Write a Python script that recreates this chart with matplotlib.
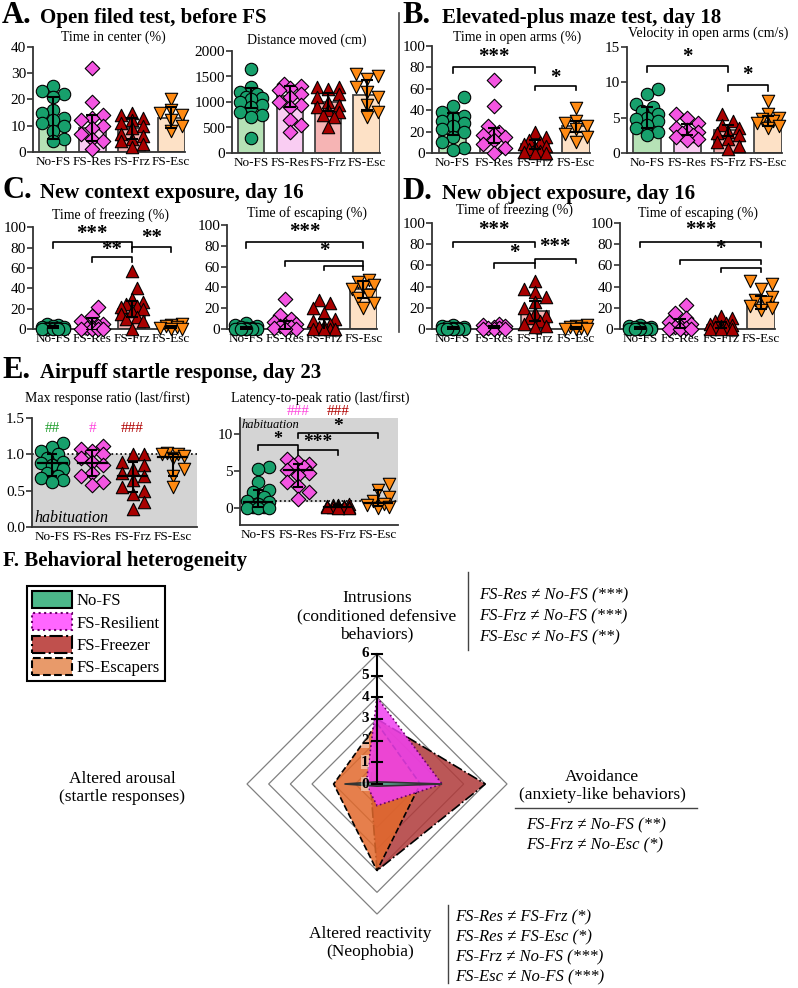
import numpy as np
import matplotlib.pyplot as plt
from matplotlib.patches import Patch, Polygon
from matplotlib.colors import to_rgba

W, H = 798, 988
plt.rcParams['font.family'] = ['Liberation Serif', 'DejaVu Serif']

groups = ['No-FS', 'FS-Res', 'FS-Frz', 'FS-Esc']
markers = ['o', 'D', '^', 'v']
msize = [80, 55, 80, 80]
pt_col = ['#17a06c', '#f455e2', '#a80000', '#ff8a12']
bar_col = ['#b6e2b6', '#f9cdf2', '#f6b4b4', '#fde1c6']

# --- A. open field ---
center_time = [
    [25, 23, 22, 21, 16, 15, 13, 12, 11, 10, 8, 5, 4],
    [32, 19, 14, 13, 12, 10, 9, 7, 5, 4, 1],
    [15, 14, 13, 12, 11, 10, 9, 7, 6, 5, 4, 3, 2],
    [20, 16, 15, 14, 12, 10, 8],
]
center_bar = [13, 9, 9, 13]
center_err = [8, 5, 4, 4]

dist = [
    [1650, 1300, 1200, 1150, 1100, 1080, 1050, 1000, 950, 900, 800, 750, 700, 290],
    [1350, 1320, 1280, 1230, 1150, 1100, 1000, 950, 900, 650, 550, 420],
    [1300, 1300, 1250, 1150, 1100, 1000, 950, 900, 850, 800, 750, 700, 500],
    [1550, 1500, 1450, 1300, 1200, 1100, 950, 800, 700],
]
dist_bar = [1080, 1110, 1000, 1140]
dist_err = [200, 200, 180, 300]

# --- B. elevated plus maze ---
arms = [
    [52, 44, 38, 35, 33, 30, 28, 25, 22, 20, 15, 10, 5, 3],
    [68, 44, 25, 20, 18, 17, 15, 12, 8, 5, 0],
    [20, 15, 12, 10, 8, 7, 5, 4, 2, 1, 0, 0],
    [42, 30, 28, 25, 22, 18, 15, 10],
]
arms_bar = [27, 16, 8, 25]
arms_err = [10, 7, 4, 5]

vel = [
    [9.0, 8.4, 7.0, 6.5, 6.0, 5.5, 5.0, 4.8, 4.5, 4.0, 3.5, 3.0, 2.5],
    [5.5, 5.0, 4.2, 3.6, 3.3, 3.0, 2.8, 2.5, 2.2, 2.0, 1.8],
    [5.5, 4.5, 4.0, 3.5, 3.0, 2.8, 2.5, 2.0, 1.5, 1.0, 0.5],
    [7.3, 5.5, 5.0, 4.8, 4.5, 4.2, 3.8, 3.5],
]
vel_bar = [5.0, 3.3, 3.2, 4.5]
vel_err = [1.5, 0.8, 0.8, 0.7]

# --- C. new context ---
ctx_frz = [
    [5, 4, 3, 2, 2, 1, 1, 0.5, 0, 0, 0, 0, 0],
    [22, 13, 8, 5, 3, 2, 1, 0, 0, 0, 0],
    [57, 40, 30, 27, 25, 23, 22, 20, 18, 15, 12, 10, 8, 0],
    [5, 4, 3, 2, 1, 0, 0],
]
ctx_frz_bar = [1.5, 5, 20, 2]
ctx_frz_err = [1, 6, 8, 1]

ctx_esc = [
    [6, 4, 3, 2, 1, 1, 0, 0, 0, 0, 0, 0],
    [29, 13, 10, 7, 5, 4, 3, 2, 1, 0, 0],
    [28, 25, 20, 15, 10, 8, 5, 3, 2, 0, 0, 0, 0],
    [47, 45, 42, 40, 38, 33, 30, 25, 20],
]
ctx_esc_bar = [1, 4, 4, 38]
ctx_esc_err = [1, 4, 6, 8]

# --- D. new object ---
obj_frz = [
    [4, 3, 2, 2, 1, 1, 0, 0, 0, 0, 0, 0],
    [5, 4, 3, 2, 1, 1, 0, 0, 0],
    [45, 38, 35, 30, 25, 20, 15, 12, 10, 8, 5, 3, 2],
    [4, 3, 2, 1, 0, 0, 0],
]
obj_frz_bar = [1, 2, 17, 1]
obj_frz_err = [1, 1, 9, 1]

obj_esc = [
    [4, 3, 2, 2, 1, 1, 0, 0, 0, 0, 0, 0],
    [23, 15, 10, 7, 5, 3, 2, 1, 0, 0, 0],
    [12, 10, 8, 6, 5, 4, 3, 2, 1, 0, 0, 0],
    [45, 42, 38, 30, 27, 25, 22, 20, 18],
]
obj_esc_bar = [1, 5, 4, 25]
obj_esc_err = [1, 4, 3, 6]

# --- E. startle ---
max_ratio = [
    [1.15, 1.10, 1.05, 1.00, 0.95, 0.90, 0.88, 0.85, 0.80, 0.75, 0.70, 0.68, 0.65, 0.62],
    [1.12, 1.08, 1.05, 1.00, 0.95, 0.90, 0.85, 0.75, 0.70, 0.62, 0.58],
    [1.00, 1.00, 0.90, 0.85, 0.80, 0.75, 0.70, 0.65, 0.55, 0.50, 0.45, 0.35, 0.25],
    [1.02, 1.00, 1.00, 0.98, 0.95, 0.80, 0.70, 0.55],
]
max_med = [0.88, 0.88, 0.70, 0.96]
max_lo = [0.70, 0.70, 0.48, 0.70]
max_hi = [1.00, 1.06, 0.90, 1.00]
max_hash = ['##', '#', '###', '']

lat_ratio = [
    [5.6, 5.3, 3.5, 2.5, 2.2, 1.5, 1.0, 0.8, 0.5, 0.2, 0.1, 0.0, 0.0, 0.0],
    [6.6, 6.3, 6.0, 5.8, 5.5, 5.2, 4.8, 4.5, 3.5, 3.0, 2.2, 1.2],
    [0.5, 0.4, 0.35, 0.3, 0.25, 0.2, 0.2, 0.15, 0.1, 0.1, 0.05, 0.0],
    [3.2, 2.5, 1.5, 1.0, 0.6, 0.4, 0.2, 0.0],
]
lat_med = [0.8, 5.2, 0.2, 0.7]
lat_lo = [0.2, 2.9, 0.1, 0.3]
lat_hi = [2.5, 5.9, 0.4, 2.5]
lat_hash = ['', '###', '###', '']

# --- F. radar (top, right, bottom, left) ---
radar_nofs = [0.1, 3.0, 0.1, 1.5]
radar_res = [4.0, 3.0, 1.0, 0.5]
radar_frz = [3.0, 5.0, 4.0, 0.3]
radar_esc = [2.8, 2.0, 4.0, 2.0]

fig = plt.figure(figsize=(W / 100, H / 100), dpi=100)


def frac(l, t, r, b):
    return [l / W, 1 - b / H, (r - l) / W, (b - t) / H]


def T(x, y, s, **kw):
    return fig.text(x / W, 1 - y / H, s, **kw)


def swarm_x(ax, xc, vals, diam=11.0, maxoff=16.0):
    pts = ax.transData.transform(np.column_stack([np.full(len(vals), xc), vals]))
    ys = pts[:, 1]
    order = np.argsort(ys)
    cands = [0.0]
    for k in range(1, 8):
        cands += [k * diam * 0.5, -k * diam * 0.5]
    placed = []
    offs = np.zeros(len(vals))
    for i in order:
        best, bestc, bestd = None, 0.0, -1
        for c in cands:
            if abs(c) > maxoff:
                continue
            d = min([np.hypot(c - px, ys[i] - py) for px, py in placed], default=1e9)
            if d >= diam * 0.95:
                best = c
                break
            if d > bestd:
                bestd, bestc = d, c
        if best is None:
            best = bestc
        offs[i] = best
        placed.append((best, ys[i]))
    ppu = ax.transData.transform((1, 0))[0] - ax.transData.transform((0, 0))[0]
    return xc + offs / ppu


def style(ax, ylim, yticks, xlim=(-0.5, 3.35), fmt=None):
    ax.set_xlim(*xlim)
    ax.set_ylim(*ylim)
    for s in ['top', 'right']:
        ax.spines[s].set_visible(False)
    for s in ['left', 'bottom']:
        ax.spines[s].set_linewidth(1.3)
        ax.spines[s].set_color('#333333')
    ax.set_xticks(range(4))
    ax.set_xticklabels(groups, fontsize=9.5)
    ax.tick_params(axis='x', length=0, pad=3)
    ax.tick_params(axis='y', length=4, width=1.2, labelsize=11, pad=1, color='#333333')
    ax.set_yticks(yticks)
    if fmt:
        ax.set_yticklabels([fmt.format(v) for v in yticks])
    ax.patch.set_alpha(0)


def bracket(ax, x1, x2, y, drop, text, ty, fs=15):
    ax.plot([x1, x1, x2, x2], [y - drop, y, y, y - drop], color='k', lw=1.2, clip_on=False, zorder=5)
    if text:
        ax.text((x1 + x2) / 2, ty, text, ha='center', va='center', fontsize=fs,
                fontweight='bold', clip_on=False)


def points(ax, data):
    for i in range(4):
        xs = swarm_x(ax, i, data[i])
        ax.scatter(xs, data[i], s=msize[i], marker=markers[i], c=pt_col[i],
                   edgecolors='black', linewidths=0.8, zorder=3, clip_on=False)


def bar_panel(rect, data, bars, errs, ylim, yticks, title, tpos, brackets=(), xlim=(-0.5, 3.35)):
    ax = fig.add_axes(frac(*rect))
    style(ax, ylim, yticks, xlim)
    ax.bar(range(4), bars, width=0.68, color=bar_col, edgecolor='#444444', linewidth=1.3, zorder=1)
    points(ax, data)
    ax.errorbar(range(4), bars, yerr=errs, fmt='none', ecolor='black', elinewidth=1.5,
                capsize=4, capthick=1.5, zorder=4)
    T(tpos[0], tpos[1], title, ha='center', va='center', fontsize=10)
    for b in brackets:
        bracket(ax, *b)
    return ax


def header(xl, xt, yb, letter, text):
    T(xl, yb, letter, fontsize=22, fontweight='bold', va='baseline')
    T(xt, yb, text, fontsize=15, fontweight='bold', va='baseline')


header(2, 40, 23, 'A.', 'Open filed test, before FS')
header(402, 442, 23, 'B.', 'Elevated-plus maze test, day 18')
header(2, 40, 198, 'C.', 'New context exposure, day 16')
header(402, 442, 199, 'D.', 'New object exposure, day 16')
header(2, 40, 378, 'E.', 'Airpuff startle response, day 23')
T(3, 566, 'F. Behavioral heterogeneity', fontsize=15, fontweight='bold', va='baseline')

fig.add_artist(plt.Line2D([398.5 / W, 398.5 / W], [1 - 13 / H, 1 - 332 / H], color='#444444', lw=1.2))

bar_panel((33, 46.7, 185, 152), center_time, center_bar, center_err, (0, 40), [0, 10, 20, 30, 40],
          'Time in center (%)', (113, 37))
bar_panel((232, 51, 380, 153), dist, dist_bar, dist_err, (0, 2000), [0, 500, 1000, 1500, 2000],
          'Distance moved (cm)', (307, 40))
bar_panel((432, 46, 590, 153), arms, arms_bar, arms_err, (0, 100), [0, 20, 40, 60, 80, 100],
          'Time in open arms (%)', (517, 37),
          [(0, 2, 80, 5, '***', 90), (2, 3, 63, 4, '*', 70)])
bar_panel((627, 47, 782, 153), vel, vel_bar, vel_err, (0, 15), [0, 5, 10, 15],
          'Velocity in open arms (cm/s)', (708, 33),
          [(0, 2, 12.3, 0.8, '*', 13.6), (2, 3, 9.6, 0.8, '*', 11.0)])
bar_panel((33, 227.5, 185, 329), ctx_frz, ctx_frz_bar, ctx_frz_err, (0, 100), [0, 20, 40, 60, 80, 100],
          'Time of freezing (%)', (110, 215),
          [(0, 2, 86, 6, '***', 94), (1, 2, 71, 5, '**', 78), (2, 3, 81, 5, '**', 90)])
bar_panel((227, 225, 377, 329), ctx_esc, ctx_esc_bar, ctx_esc_err, (0, 100), [0, 20, 40, 60, 80, 100],
          'Time of escaping (%)', (307, 213),
          [(0, 3, 84, 6, '***', 93), (1, 3, 65, 4, '*', 75), (2, 3, 61, 4, None, 0)])
bar_panel((432, 223, 590, 329), obj_frz, obj_frz_bar, obj_frz_err, (0, 100), [0, 20, 40, 60, 80, 100],
          'Time of freezing (%)', (515, 210),
          [(0, 2, 82, 5, '***', 93), (1, 2, 62, 4, '*', 72), (2, 3, 66, 4, '***', 77)])
bar_panel((620, 223, 775, 329), obj_esc, obj_esc_bar, obj_esc_err, (0, 100), [0, 20, 40, 60, 80, 100],
          'Time of escaping (%)', (698, 213),
          [(0, 3, 82, 5, '***', 93), (1, 3, 65, 4, '*', 75), (2, 3, 58, 4, None, 0)])


def median_panel(rect, data, med, lo, hi, ylim, yticks, fmt, xlim, title, tpos):
    ax = fig.add_axes(frac(*rect))
    style(ax, ylim, yticks, xlim, fmt)
    points(ax, data)
    for i in range(4):
        ax.plot([i - 0.36, i + 0.36], [med[i], med[i]], color='black', lw=1.6, zorder=4)
    x = np.arange(4)
    ax.errorbar(x, med, yerr=[np.array(med) - np.array(lo), np.array(hi) - np.array(med)],
                fmt='none', ecolor='black', elinewidth=1.5, capsize=3.5, capthick=1.5, zorder=4)
    ax.axhline(1.0, color='black', ls=':', lw=1.2, zorder=2)
    T(tpos[0], tpos[1], title, ha='center', va='center', fontsize=10)
    return ax


ax = median_panel((32, 418, 197, 527), max_ratio, max_med, max_lo, max_hi, (0, 1.5),
                  [0.0, 0.5, 1.0, 1.5], '{:.1f}', (-0.5, 3.6), 'Max response ratio (last/first)', (107, 398))
ax.axhspan(0, 1.0, color='#d4d4d4', zorder=0)
ax.text(-0.45, 0.02, 'habituation', style='italic', fontsize=11.5, va='bottom', ha='left')
hash_col = ['#1f9e2c', '#ff44dd', '#b00000', '#ff8a12']
for i, h in enumerate(max_hash):
    ax.text(i, 1.36, h, color=hash_col[i], ha='center', va='center', fontsize=11)

ax = median_panel((240, 418, 398, 525), lat_ratio, lat_med, lat_lo, lat_hi, (-2.3, 12.2),
                  [0, 5, 10], None, (-0.45, 3.5), 'Latency-to-peak ratio (last/first)', (320, 398))
ax.axhspan(1.0, 12.2, color='#d4d4d4', zorder=0)
ax.text(-0.42, 12.1, 'habituation', style='italic', fontsize=9, va='top', ha='left')
for i, h in enumerate(lat_hash):
    ax.text(i, 13.1, h, color=hash_col[i], ha='center', va='center', fontsize=11, clip_on=False)
bracket(ax, 0, 1, 8.5, 0.6, '*', 9.3, 13)
bracket(ax, 1, 2, 7.8, 0.6, '***', 8.9, 14)
bracket(ax, 1, 3, 10.1, 0.6, '*', 11.1, 14)

# --- F. radar ---
R = 140 / 21.67
rax = fig.add_axes(frac(237, 644, 517, 924))
rax.set_xlim(-R, R)
rax.set_ylim(-R, R)
rax.axis('off')
dirs = np.array([[0, 1], [1, 0], [0, -1], [-1, 0]], dtype=float)
for r in range(1, 7):
    rax.add_patch(Polygon(dirs * r, closed=True, fill=False, ec='#808080', lw=0.9, zorder=1))

series = [
    (radar_frz, '#b03a3a', '-.', 'black'),
    (radar_esc, '#e2692c', '--', 'black'),
    (radar_res, '#f040f0', ':', '#6a006a'),
    (radar_nofs, '#3aa87a', '-', '#333333'),
]
for vals, fc, ls, ec in series:
    rax.add_patch(Polygon(dirs * np.array(vals)[:, None], closed=True, fc=to_rgba(fc, 0.85),
                          ec=ec, ls=ls, lw=1.2, zorder=2))

rax.plot([0, 0], [0, 6], color='black', lw=1.5, zorder=5)
for t in range(7):
    rax.plot([-0.22, 0.22], [t, t], color='black', lw=1.5, zorder=5)
    rax.text(-0.55, t, str(t), ha='center', va='center', fontsize=11, fontweight='bold', zorder=6,
             bbox=dict(fc='white', ec='none', alpha=0.45, pad=0.3))

T(377, 616, 'Intrusions\n(conditioned defensive\nbehaviors)', ha='center', va='center',
  fontsize=12.5, linespacing=1.2)
fig.add_artist(plt.Line2D([468 / W, 468 / W], [1 - 572 / H, 1 - 650 / H], color='#444444', lw=1))
for k, s in enumerate(['FS-Res ≠ No-FS (***)', 'FS-Frz ≠ No-FS (***)', 'FS-Esc ≠ No-FS (**)']):
    T(479, 595 + 21 * k, s, ha='left', va='center', fontsize=12, style='italic')

T(602, 786, 'Avoidance\n(anxiety-like behaviors)', ha='center', va='center', fontsize=12.5, linespacing=1.2)
fig.add_artist(plt.Line2D([515 / W, 697 / W], [1 - 808 / H, 1 - 808 / H], color='#444444', lw=1))
for k, s in enumerate(['FS-Frz ≠ No-FS (**)', 'FS-Frz ≠ No-Esc (*)']):
    T(526, 825 + 20 * k, s, ha='left', va='center', fontsize=12, style='italic')

T(122, 788, 'Altered arousal\n(startle responses)', ha='center', va='center', fontsize=12.5, linespacing=1.2)

T(370, 943, 'Altered reactivity\n(Neophobia)', ha='center', va='center', fontsize=12.5, linespacing=1.2)
fig.add_artist(plt.Line2D([448 / W, 448 / W], [1 - 905 / H, 1 - 983 / H], color='#444444', lw=1))
for k, s in enumerate(['FS-Res ≠ FS-Frz (*)', 'FS-Res ≠ FS-Esc (*)', 'FS-Frz ≠ No-FS (***)',
                       'FS-Esc ≠ No-FS (***)']):
    T(455, 917 + 20 * k, s, ha='left', va='center', fontsize=12, style='italic')

handles = [
    Patch(fc='#4cb88a', ec='black', lw=1.5, ls='-'),
    Patch(fc='#ff66ff', ec='#6a006a', lw=1.5, ls=':'),
    Patch(fc='#c0504d', ec='black', lw=1.5, ls='-.'),
    Patch(fc='#e89a6a', ec='black', lw=1.5, ls='--'),
]
leg = fig.legend(handles, ['No-FS', 'FS-Resilient', 'FS-Freezer', 'FS-Escapers'], loc='upper left',
                 bbox_to_anchor=(27 / W, 1 - 586 / H), fontsize=12, frameon=True, fancybox=False,
                 edgecolor='black', framealpha=1, handlelength=2.4, handleheight=1.2,
                 borderpad=0.3, labelspacing=0.25, handletextpad=0.3, borderaxespad=0)
leg.get_frame().set_linewidth(1.5)

fig.savefig('out.png', dpi=100)
